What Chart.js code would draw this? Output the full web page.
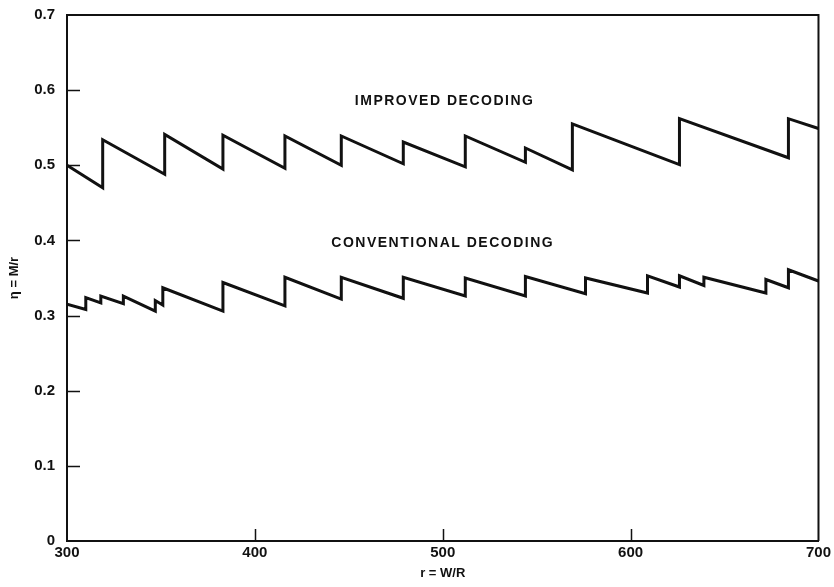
<!DOCTYPE html>
<html>
<head>
<meta charset="utf-8">
<script src="https://cdn.jsdelivr.net/npm/chart.js@4"></script>
<style>
  html, body { margin: 0; padding: 0; background: #fff; }
  #wrap { width: 834px; height: 587px; }
</style>
</head>
<body>
<div id="wrap"><canvas id="chart" width="834" height="587"></canvas></div>
<script>
// values
const improvedR = [300, 319, 319, 352, 352, 383, 383, 416, 416, 446, 446, 479, 479, 512, 512, 544, 544, 569, 569, 626, 626, 684, 684, 700];
const improvedEta = [0.500, 0.470, 0.534, 0.488, 0.541, 0.495, 0.540, 0.496, 0.539, 0.500, 0.539, 0.502, 0.531, 0.498, 0.539, 0.504, 0.523, 0.494, 0.555, 0.501, 0.562, 0.510, 0.562, 0.549];

const conventionalR = [300, 310, 310, 318, 318, 330, 330, 347, 347, 351, 351, 383, 383, 416, 416, 446, 446, 479, 479, 512, 512, 544, 544, 576, 576, 609, 609, 626, 626, 639, 639, 672, 672, 684, 684, 700];
const conventionalEta = [0.315, 0.308, 0.324, 0.317, 0.326, 0.316, 0.326, 0.306, 0.320, 0.314, 0.337, 0.306, 0.344, 0.313, 0.351, 0.322, 0.351, 0.323, 0.351, 0.326, 0.350, 0.326, 0.352, 0.329, 0.350, 0.330, 0.353, 0.338, 0.353, 0.340, 0.351, 0.330, 0.348, 0.337, 0.361, 0.346];

const xTicks = [300, 400, 500, 600, 700];
const yTicks = [0, 0.1, 0.2, 0.3, 0.4, 0.5, 0.6, 0.7];

const curveLabels = [
  { text: "IMPROVED DECODING", r: 501, eta: 0.586 },
  { text: "CONVENTIONAL DECODING", r: 500, eta: 0.397 },
];

const FONT = "'Liberation Sans', Arial, sans-serif";
const INK = "#111";

function toPoints(xs, ys) {
  return xs.map((x, i) => ({ x: x, y: ys[i] }));
}

// frame, inward tick marks and curve captions
const decorations = {
  id: "decorations",
  afterDraw(chart) {
    const ctx = chart.ctx;
    const a = chart.chartArea;
    const xs = chart.scales.x;
    const ys = chart.scales.y;
    ctx.save();
    ctx.strokeStyle = INK;
    ctx.lineWidth = 2;
    ctx.beginPath();
    ctx.moveTo(a.left, a.top);
    ctx.lineTo(a.right, a.top);
    ctx.lineTo(a.right, a.bottom);
    ctx.stroke();

    ctx.lineWidth = 1.5;
    ctx.beginPath();
    yTicks.slice(1, -1).forEach((v) => {
      const py = Math.round(ys.getPixelForValue(v)) + 0.5;
      ctx.moveTo(a.left, py);
      ctx.lineTo(a.left + 13, py);
    });
    xTicks.slice(1, -1).forEach((v) => {
      const px = Math.round(xs.getPixelForValue(v)) + 0.5;
      ctx.moveTo(px, a.bottom);
      ctx.lineTo(px, a.bottom - 12);
    });
    ctx.stroke();

    ctx.fillStyle = INK;
    ctx.font = "bold 14px " + FONT;
    ctx.textAlign = "center";
    ctx.textBaseline = "middle";
    if ("letterSpacing" in ctx) ctx.letterSpacing = "1.5px";
    curveLabels.forEach((l) => {
      ctx.fillText(l.text, xs.getPixelForValue(l.r), ys.getPixelForValue(l.eta));
    });
    ctx.restore();
  },
};

window.onload = function () {
  const ctx = document.getElementById("chart").getContext("2d");

  new Chart(ctx, {
    type: "line",
    data: {
      datasets: [
        {
          label: "Improved decoding",
          data: toPoints(improvedR, improvedEta),
          borderColor: INK,
          borderWidth: 3,
          pointRadius: 0,
          tension: 0,
          fill: false,
        },
        {
          label: "Conventional decoding",
          data: toPoints(conventionalR, conventionalEta),
          borderColor: INK,
          borderWidth: 3,
          pointRadius: 0,
          tension: 0,
          fill: false,
        },
      ],
    },
    options: {
      responsive: false,
      animation: false,
      events: [],
      layout: { padding: { top: 15, right: 15, left: 0, bottom: 0 } },
      plugins: {
        legend: { display: false },
        tooltip: { enabled: false },
      },
      scales: {
        x: {
          type: "linear",
          min: 300,
          max: 700,
          afterBuildTicks: (scale) => {
            scale.ticks = xTicks.map((v) => ({ value: v }));
          },
          afterFit: (scale) => {
            scale.height = 46;
          },
          grid: { display: false, drawTicks: false },
          border: { display: true, color: INK, width: 2 },
          ticks: {
            color: INK,
            padding: 3,
            maxRotation: 0,
            font: { family: FONT, size: 15, weight: "bold" },
          },
          title: {
            display: true,
            text: "r = W/R",
            color: INK,
            padding: { top: 0, bottom: 6 },
            font: { family: FONT, size: 13, weight: "bold" },
          },
        },
        y: {
          type: "linear",
          min: 0,
          max: 0.7,
          afterBuildTicks: (scale) => {
            scale.ticks = yTicks.map((v) => ({ value: v }));
          },
          afterFit: (scale) => {
            scale.width = 67;
          },
          // tickLength offsets the labels; the marks themselves are drawn inward by the plugin
          grid: { display: false, drawTicks: true, tickLength: 12 },
          border: { display: true, color: INK, width: 2 },
          ticks: {
            color: INK,
            padding: 0,
            callback: (v) => (v === 0 ? "0" : v.toFixed(1)),
            font: { family: FONT, size: 15, weight: "bold" },
          },
          title: {
            display: true,
            text: "η = M/r",
            color: INK,
            padding: { top: 7, bottom: 0 },
            font: { family: FONT, size: 13, weight: "bold" },
          },
        },
      },
    },
    plugins: [decorations],
  });
};
</script>
</body>
</html>
